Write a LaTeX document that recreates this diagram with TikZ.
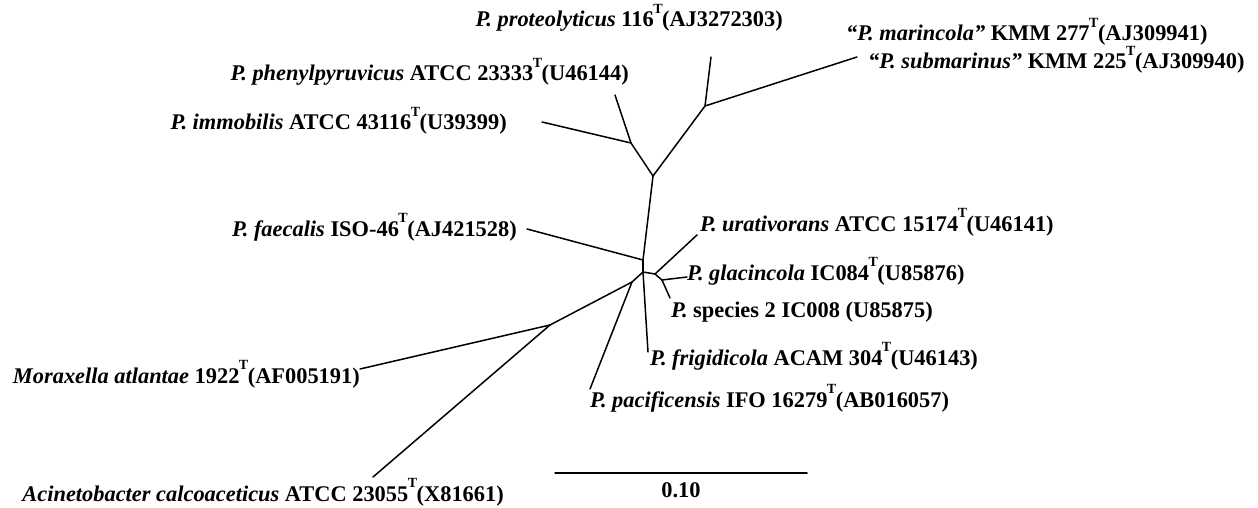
\documentclass[tikz,border=0pt]{standalone}
\usepackage{fontspec}
\setmainfont{Liberation Serif}
\newcommand\Tsup{\kern-0.5pt\raisebox{0.6em}{\fontsize{14}{14}\selectfont T}\kern-0.5pt}
\newcommand\spn[1]{\textit{#1}}
\tikzset{
  br/.style={line width=1.5pt, line cap=round},
  lab/.style={inner sep=0pt, font=\fontsize{22.4}{26}\selectfont\bfseries},
}
\begin{document}
\begin{tikzpicture}[x=1pt,y=-1pt]
\useasboundingbox[fill=white] (0,0) rectangle (1258,508);
% internal nodes
\coordinate (A) at (653,176);
\coordinate (B) at (631,143);
\coordinate (C) at (705,106);
\coordinate (E) at (643,260);
\coordinate (F) at (643,272);
\coordinate (G) at (655,274);
\coordinate (I) at (662,280);
\coordinate (H) at (632,282);
\coordinate (D) at (550,325);
% leaves
\coordinate (prot) at (711,57);
\coordinate (mar) at (857,57);
\coordinate (phen) at (615,95);
\coordinate (imm) at (542,122);
\coordinate (faec) at (527,229);
\coordinate (urat) at (697,235);
\coordinate (glac) at (687,277);
\coordinate (spec) at (670,298);
\coordinate (frig) at (648,352);
\coordinate (pac) at (590,389);
\coordinate (mor) at (360,369);
\coordinate (aci) at (373,477);
% branches
\draw[br] (A) -- (B);
\draw[br] (A) -- (C);
\draw[br] (B) -- (phen);
\draw[br] (B) -- (imm);
\draw[br] (C) -- (prot);
\draw[br] (C) -- (mar);
\draw[br] (A) -- (E);
\draw[br] (E) -- (faec);
\draw[br] (E) -- (F);
\draw[br] (F) -- (G);
\draw[br] (G) -- (urat);
\draw[br] (G) -- (I);
\draw[br] (I) -- (glac);
\draw[br] (I) -- (spec);
\draw[br] (F) -- (frig);
\draw[br] (F) -- (H);
\draw[br] (H) -- (pac);
\draw[br] (H) -- (D);
\draw[br] (D) -- (mor);
\draw[br] (D) -- (aci);
% labels
\node[lab, anchor=base east] (lprot) at (783,27) {\spn{P. proteolyticus} 116\Tsup(AJ3272303)};
\node[lab, anchor=base west] (lmar) at (846,41) {\spn{“P. marincola”} KMM 277\Tsup(AJ309941)};
\node[lab, anchor=base west] (lsub) at (868,69) {\spn{“P. submarinus”} KMM 225\Tsup(AJ309940)};
\node[lab, anchor=base east] (lphen) at (629,81) {\spn{P. phenylpyruvicus} ATCC 23333\Tsup(U46144)};
\node[lab, anchor=base east] (limm) at (507,130) {\spn{P. immobilis} ATCC 43116\Tsup(U39399)};
\node[lab, anchor=base east] (lfaec) at (517,236) {\spn{P. faecalis} ISO-46\Tsup(AJ421528)};
\node[lab, anchor=base west] (lurat) at (700,231) {\spn{P. urativorans} ATCC 15174\Tsup(U46141)};
\node[lab, anchor=base west] (lglac) at (687,280) {\spn{P. glacincola} IC084\Tsup(U85876)};
\node[lab, anchor=base west] (lspec) at (671,317) {\spn{P.} species 2 IC008 (U85875)};
\node[lab, anchor=base west] (lfrig) at (650,365) {\spn{P. frigidicola} ACAM 304\Tsup(U46143)};
\node[lab, anchor=base west] (lpac) at (590,407) {\spn{P. pacificensis} IFO 16279\Tsup(AB016057)};
\node[lab, anchor=base east] (lmor) at (360,383) {\spn{Moraxella atlantae} 1922\Tsup(AF005191)};
\node[lab, anchor=base east] (laci) at (504,501) {\spn{Acinetobacter calcoaceticus} ATCC 23055\Tsup(X81661)};
% scale bar
\coordinate (s1) at (555,473);
\coordinate (s2) at (807,473);
\draw[br] (s1) -- (s2);
\node[lab, anchor=base] (scl) at (681,497) {0.10};
\end{tikzpicture}
\end{document}
